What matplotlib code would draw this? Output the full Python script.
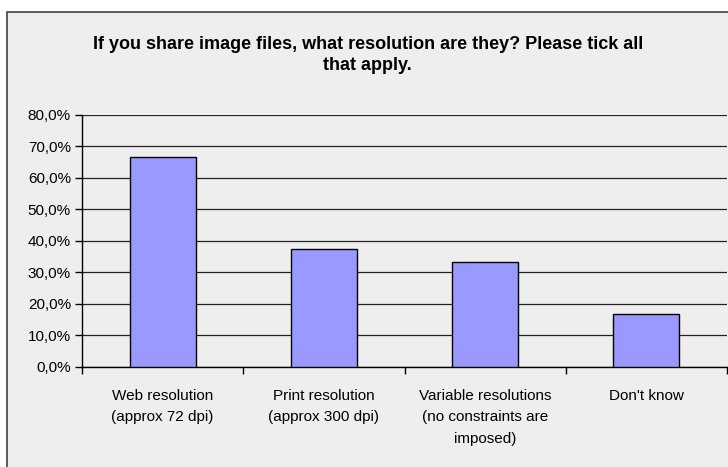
import matplotlib
matplotlib.use("Agg")
import matplotlib.pyplot as plt
from matplotlib.patches import Rectangle
from matplotlib.ticker import FuncFormatter, MultipleLocator

# data
categories = [
    "Web resolution\n(approx 72 dpi)",
    "Print resolution\n(approx 300 dpi)",
    "Variable resolutions\n(no constraints are\nimposed)",
    "Don't know",
]
shares = [66.7, 37.5, 33.3, 16.7]
title = "If you share image files, what resolution are they? Please tick all\nthat apply."

plt.rcParams['font.family'] = ['Liberation Sans', 'DejaVu Sans']

fig = plt.figure(figsize=(7.28, 4.67), dpi=100)
fig.patch.set_facecolor('white')

# grey chart area with dark border
frame = Rectangle((7 / 728, -0.05), 1.0, (467 - 12) / 467 + 0.05,
                  transform=fig.transFigure, facecolor='#EEEEEE',
                  edgecolor='#404040', linewidth=1.2, zorder=-5)
fig.patches.append(frame)

ax = fig.add_axes([82 / 728, (467 - 367) / 467, (727 - 82) / 728, (367 - 114.7) / 467])
ax.set_facecolor('#EEEEEE')
ax.set_zorder(1)

x = list(range(len(categories)))
ax.bar(x, shares, width=0.41, color='#9999FF', edgecolor='black', linewidth=1.0, zorder=3)

ax.set_xlim(-0.5, len(categories) - 0.5)
ax.set_ylim(0, 80)
ax.yaxis.set_major_locator(MultipleLocator(10))
ax.yaxis.set_major_formatter(FuncFormatter(lambda v, p: f"{v:.1f}%".replace('.', ',')))
ax.grid(axis='y', color='#222222', linewidth=0.9, zorder=1)

for s in ['top', 'right']:
    ax.spines[s].set_visible(False)
for s in ['left', 'bottom']:
    ax.spines[s].set_color('black')
    ax.spines[s].set_linewidth(1.0)

# ticks at category boundaries, labels centred under bars
ax.set_xticks([i - 0.5 for i in range(len(categories) + 1)])
ax.set_xticklabels([])
ax.set_xticks(x, minor=True)
ax.set_xticklabels(categories, minor=True, fontsize=11, linespacing=1.65, va='top')
ax.tick_params(axis='x', which='minor', length=0, pad=16)
ax.tick_params(axis='x', which='major', length=5, width=1, color='black')
ax.tick_params(axis='y', length=5, width=1, labelsize=11, pad=3)

fig.text(0.505, (467 - 55) / 467, title, ha='center', va='center',
         fontsize=13, fontweight='bold', linespacing=1.3)

fig.savefig("out.png", dpi=100)
